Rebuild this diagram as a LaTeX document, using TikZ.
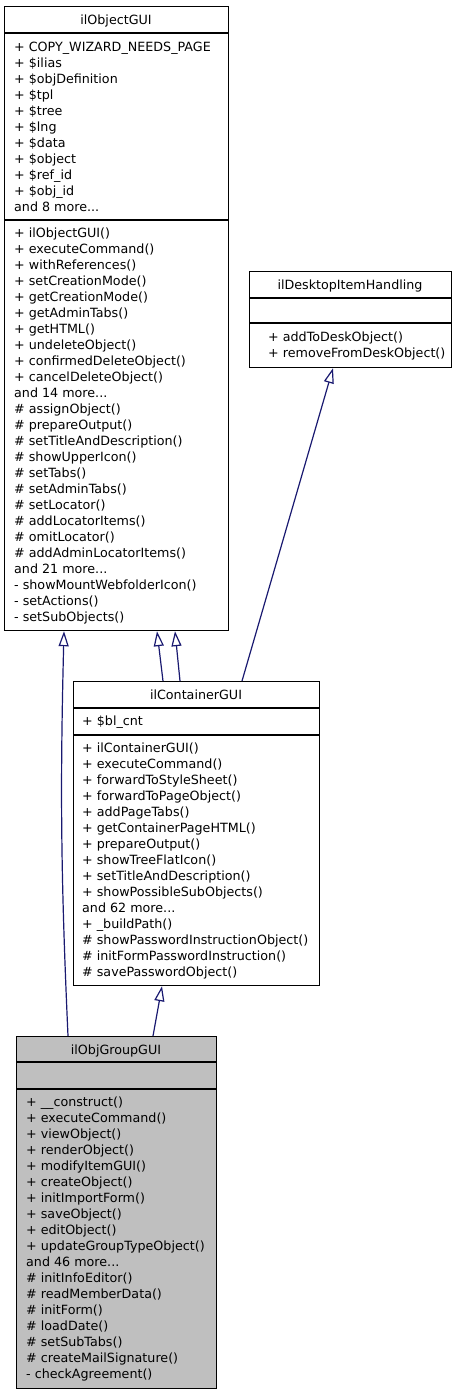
\documentclass[tikz,border=0pt]{standalone}
\usepackage{fontspec}
\setmainfont{DejaVu Sans}
\usetikzlibrary{arrows.meta,calc}

\definecolor{edgeblue}{HTML}{191970}
\definecolor{groupgray}{HTML}{BFBFBF}
\newcommand{\moredots}{...}

\tikzset{
  classbox/.style={draw=black, line width=1.2pt, anchor=north west, inner sep=0pt},
  classname/.style={anchor=base, inner sep=0pt, font=\fontsize{12.7}{16}\selectfont},
  member/.style={anchor=base west, inner sep=0pt, font=\fontsize{12.7}{16}\selectfont},
  inherit/.style={draw=edgeblue, line width=1.2pt, -{Triangle[open, length=15pt, width=10pt]}},
}

\begin{document}
\begin{tikzpicture}[x=1pt, y=-1pt]
\useasboundingbox (0,0) rectangle (456,1395);
            % Classes
\node[classbox, minimum width=224, minimum height=624] (objectgui) at (4,6) {};
\node[classbox, minimum width=202, minimum height=96] (deskitem) at (249,271) {};
\node[classbox, minimum width=246, minimum height=304] (containergui) at (73,681) {};
\node[classbox, fill=groupgray, minimum width=200, minimum height=352] (groupgui) at (16,1036) {};
%Compartments
\draw[line width=1.2pt] (4,33) -- (228,33) (4,220) -- (228,220);
\draw[line width=1.2pt] (249,298) -- (451,298) (249,323) -- (451,323);
\draw[line width=1.2pt] (73,708) -- (319,708) (73,735) -- (319,735);
\draw[line width=1.2pt] (16,1062) -- (216,1062) (16,1089) -- (216,1089);
%Names
\node[classname] (objectgui-name) at (116,24) {ilObjectGUI};
\node[classname] (deskitem-name) at (350,289) {ilDesktopItemHandling};
\node[classname] (containergui-name) at (196,699) {ilContainerGUI};
\node[classname] (groupgui-name) at (116,1054) {ilObjGroupGUI};
%Members
\foreach \m [count=\i from 0] in {+ COPY\_WIZARD\_NEEDS\_PAGE, + \$ilias, + \$objDefinition,
  + \$tpl, + \$tree, + \$lng, + \$data, + \$object, + \$ref\_id, + \$obj\_id, and 8 more\moredots}
  \node[member] (objectgui-attr\i) at (14,51+16*\i) {\m};
\foreach \m [count=\i from 0] in {+ ilObjectGUI(), + executeCommand(), + withReferences(),
  + setCreationMode(), + getCreationMode(), + getAdminTabs(), + getHTML(), + undeleteObject(),
  + confirmedDeleteObject(), + cancelDeleteObject(), and 14 more\moredots, \# assignObject(),
  \# prepareOutput(), \# setTitleAndDescription(), \# showUpperIcon(), \# setTabs(),
  \# setAdminTabs(), \# setLocator(), \# addLocatorItems(), \# omitLocator(),
  \# addAdminLocatorItems(), and 21 more\moredots, - showMountWebfolderIcon(), - setActions(),
  - setSubObjects()}
  \node[member] (objectgui-op\i) at (14,237+16*\i) {\m};
\foreach \m [count=\i from 0] in {+ addToDeskObject(), + removeFromDeskObject()}
  \node[member] (deskitem-op\i) at (268,341+16*\i) {\m};
\node[member] (containergui-attr0) at (82,725) {+ \$bl\_cnt};
\foreach \m [count=\i from 0] in {+ ilContainerGUI(), + executeCommand(), + forwardToStyleSheet(),
  + forwardToPageObject(), + addPageTabs(), + getContainerPageHTML(), + prepareOutput(),
  + showTreeFlatIcon(), + setTitleAndDescription(), + showPossibleSubObjects(), and 62 more\moredots,
  + \_buildPath(), \# showPasswordInstructionObject(), \# initFormPasswordInstruction(),
  \# savePasswordObject()}
  \node[member] (containergui-op\i) at (82,752+16*\i) {\m};
\foreach \m [count=\i from 0] in {+ \_\_construct(), + executeCommand(), + viewObject(),
  + renderObject(), + modifyItemGUI(), + createObject(), + initImportForm(), + saveObject(),
  + editObject(), + updateGroupTypeObject(), and 46 more\moredots, \# initInfoEditor(),
  \# readMemberData(), \# initForm(), \# loadDate(), \# setSubTabs(), \# createMailSignature(),
  - checkAgreement()}
  \node[member] (groupgui-op\i) at (26,1106+16*\i) {\m};
%Inheritance
\draw[inherit] ($(groupgui.north west)+(52,0)$) to[bend left=2] ($(objectgui.south west)+(60,0)$);
\draw[inherit] ($(groupgui.north west)+(137,0)$) -- ($(containergui.south west)+(89,0)$);
\draw[inherit] ($(containergui.north west)+(90,0)$) -- ($(objectgui.south west)+(153,0)$);
\draw[inherit] ($(containergui.north west)+(107,0)$) -- ($(objectgui.south west)+(171,0)$);
\draw[inherit] ($(containergui.north west)+(169,0)$) -- ($(deskitem.south west)+(84,0)$);

          \end{tikzpicture}
\end{document}
